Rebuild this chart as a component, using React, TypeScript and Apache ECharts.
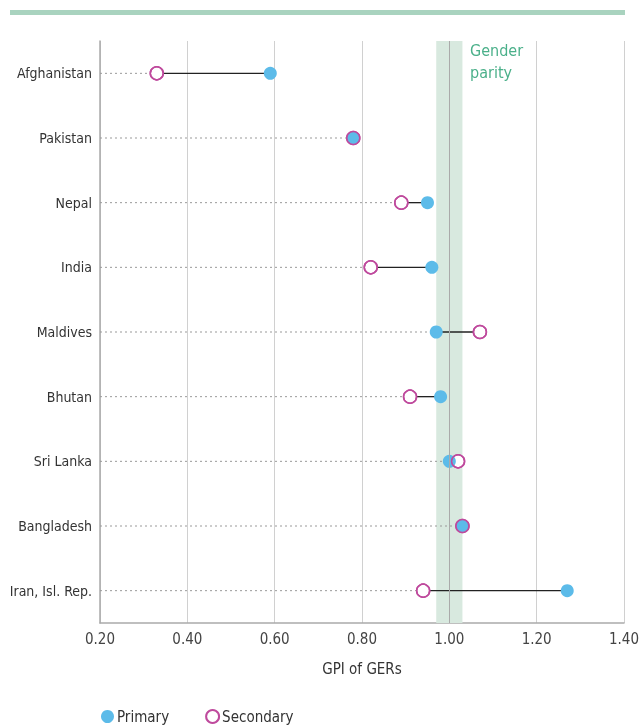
import React, { useEffect, useRef } from "react";
import * as echarts from "echarts";

const categories = [
  "Afghanistan",
  "Pakistan",
  "Nepal",
  "India",
  "Maldives",
  "Bhutan",
  "Sri Lanka",
  "Bangladesh",
  "Iran, Isl. Rep.",
];
const primary = [0.59, 0.78, 0.95, 0.96, 0.97, 0.98, 1.0, 1.03, 1.27];
const secondary = [0.33, 0.78, 0.89, 0.82, 1.07, 0.91, 1.02, 1.03, 0.94];
const parityBand = [0.97, 1.03];

const FONT = "'Liberation Sans Narrow', 'DejaVu Sans Condensed', 'Roboto', sans-serif";
const BLUE = "#5cbbe9";
const MAGENTA = "#bf4a9d";

export default function App() {
  const ref = useRef<HTMLDivElement>(null);
  useEffect(() => {
    if (!ref.current) return;
    const chart = echarts.init(ref.current, null, { renderer: "svg" });
    const rows = categories.map((c, i) => [primary[i], i, secondary[i]]);
    chart.setOption({
      animation: false,
      textStyle: { fontFamily: FONT },
      graphic: [
        {
          type: "rect",
          shape: { x: 10, y: 10, width: 615, height: 5 },
          style: { fill: "#a9d3bf" },
        },
        {
          type: "text",
          left: 470,
          top: 39,
          style: {
            text: "Gender\nparity",
            fill: "#4bb08a",
            font: `16px ${FONT}`,
            lineHeight: 22,
          },
          z: 100,
        },
      ],
      grid: { left: 100, right: 15, top: 41, bottom: 102, outerBoundsMode: "none", containLabel: false },
      xAxis: {
        type: "value",
        min: 0.2,
        max: 1.4,
        interval: 0.2,
        name: "GPI of GERs",
        nameLocation: "middle",
        nameGap: 38,
        nameTextStyle: { fontSize: 15, color: "#333", fontFamily: FONT },
        axisLine: { show: true, lineStyle: { color: "#aaa", width: 1.5 } },
        axisTick: { show: false },
        axisLabel: {
          fontSize: 15,
          color: "#444",
          margin: 8,
          fontFamily: FONT,
          formatter: (v: number) => v.toFixed(2),
        },
        splitLine: { show: true, lineStyle: { color: "#d0d0d0", width: 1 } },
      },
      yAxis: {
        type: "category",
        data: categories,
        inverse: true,
        axisLine: { show: true, lineStyle: { color: "#aaa", width: 1.5 } },
        axisTick: { show: false },
        axisLabel: { fontSize: 14, color: "#333", margin: 8, fontFamily: FONT },
        splitLine: { show: false },
      },
      legend: {
        left: 96,
        top: 704,
        itemWidth: 13,
        itemHeight: 13,
        itemGap: 36,
        textStyle: { fontSize: 15, color: "#333", fontFamily: FONT, padding: [0, 0, 0, -2] },
        data: [
          { name: "Primary", icon: "circle" },
          { name: "Secondary", icon: "circle" },
        ],
      },
      series: [
        {
          type: "custom",
          name: "connectors",
          encode: { x: 0, y: 1 },
          data: rows,
          z: 2,
          markArea: {
            silent: true,
            itemStyle: { color: "#d8e9df" },
            data: [[{ xAxis: parityBand[0] }, { xAxis: parityBand[1] }]],
          },
          markLine: {
            silent: true,
            symbol: "none",
            label: { show: false },
            lineStyle: { color: "#aaa", width: 1, type: "solid" },
            data: [{ xAxis: 1.0 }],
          },
          renderItem: (params: any, api: any) => {
            const y = api.value(1);
            const p = api.value(0);
            const s = api.value(2);
            const lo = Math.min(p, s);
            const hi = Math.max(p, s);
            const a = api.coord([lo, y]);
            const b = api.coord([hi, y]);
            const left = params.coordSys.x;
            return {
              type: "group",
              children: [
                {
                  type: "line",
                  shape: { x1: left, y1: a[1], x2: a[0], y2: a[1] },
                  style: { stroke: "#999", lineWidth: 1, lineDash: [2, 3] },
                },
                {
                  type: "line",
                  shape: { x1: a[0], y1: a[1], x2: b[0], y2: b[1] },
                  style: { stroke: "#222", lineWidth: 1.3 },
                },
              ],
            };
          },
        },
        {
          type: "scatter",
          name: "Secondary",
          data: categories.map((c, i) => [secondary[i], i]),
          symbol: "circle",
          symbolSize: 13,
          itemStyle: { color: "#fff", borderColor: MAGENTA, borderWidth: 1.5, opacity: 1 },
          z: 3,
        },
        {
          type: "scatter",
          name: "Primary",
          data: categories.map((c, i) => [primary[i], i]),
          symbol: "circle",
          symbolSize: 13,
          itemStyle: { color: BLUE, opacity: 1 },
          z: 4,
        },
        {
          type: "scatter",
          name: "Secondary ring",
          data: categories.map((c, i) => [secondary[i], i]),
          symbol: "circle",
          symbolSize: 13,
          itemStyle: { color: "rgba(0,0,0,0)", borderColor: MAGENTA, borderWidth: 1.5, opacity: 1 },
          z: 5,
          silent: true,
        },
      ],
    });
    return () => chart.dispose();
  }, []);
  return (
    <div
      ref={ref}
      style={{ position: "fixed", left: 0, top: 0, width: 639, height: 725 }}
    />
  );
}
